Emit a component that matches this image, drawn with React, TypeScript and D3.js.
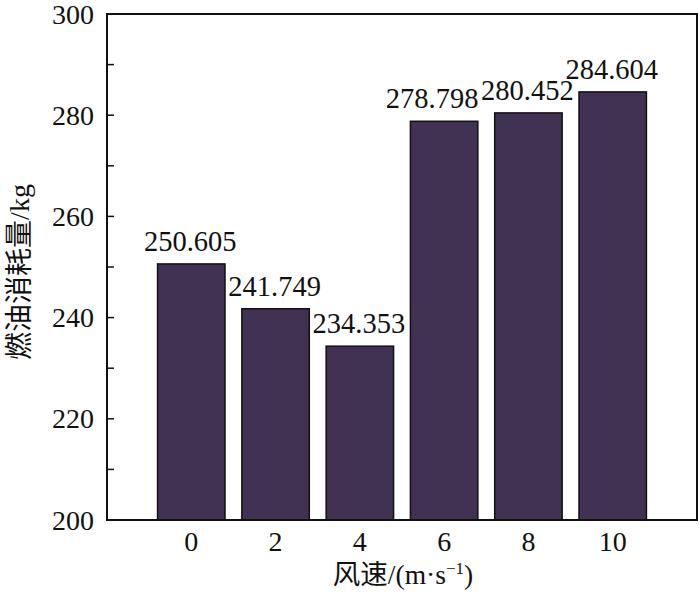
import React from "react";
import * as d3 from "d3";

const windSpeeds = [0, 2, 4, 6, 8, 10];
const fuelUse = [250.605, 241.749, 234.353, 278.798, 280.452, 284.604];
const yTicks = d3.range(200, 301, 10);
const yLabels = [200, 220, 240, 260, 280, 300];

const width = 700;
const height = 597;
const margin = { top: 14, right: 3, bottom: 77, left: 107 };

const serif = "'Liberation Serif', 'Times New Roman', 'Noto Sans CJK SC', serif";

export default function App() {
  const x = d3
    .scaleLinear()
    .domain([-2, 12])
    .range([margin.left, width - margin.right]);
  const y = d3
    .scaleLinear()
    .domain([200, 300])
    .range([height - margin.bottom, margin.top]);
  const barW = x(1.6) - x(0);

  // the 6 m/s label is pushed left so it clears its neighbour
  const nudge = (s: number) => (s === 6 ? -12 : -1);

  return (
    <svg
      width={width}
      height={height}
      style={{ position: "absolute", left: 0, top: 0, background: "#fff" }}
    >
      {windSpeeds.map((s, i) => (
        <g key={`bar/${i}`}>
          <rect
            x={x(s) - barW / 2}
            y={y(fuelUse[i])}
            width={barW}
            height={y(200) - y(fuelUse[i])}
            fill="#413253"
            stroke="#111"
            strokeWidth={1.5}
          />
          <text
            x={x(s) + nudge(s)}
            y={y(fuelUse[i]) - 13}
            textAnchor="middle"
            fontFamily={serif}
            fontSize={28.5}
            fill="#111"
          >
            {fuelUse[i].toFixed(3)}
          </text>
          <text
            x={x(s)}
            y={y(200) + 31}
            textAnchor="middle"
            fontFamily={serif}
            fontSize={28}
            fill="#111"
          >
            {s}
          </text>
        </g>
      ))}

      {yTicks.map((t) => (
        <line
          key={`tick/${t}`}
          x1={x(-2)}
          x2={x(-2) + 7}
          y1={y(t)}
          y2={y(t)}
          stroke="#111"
          strokeWidth={1.5}
        />
      ))}
      {yLabels.map((t) => (
        <text
          key={`ylab/${t}`}
          x={x(-2) - 13}
          y={y(t) + 9.5}
          textAnchor="end"
          fontFamily={serif}
          fontSize={28}
          fill="#111"
        >
          {t}
        </text>
      ))}

      <rect
        x={margin.left}
        y={margin.top}
        width={width - margin.left - margin.right}
        height={height - margin.top - margin.bottom}
        fill="none"
        stroke="#111"
        strokeWidth={2}
      />

      <text
        x={403}
        y={584}
        textAnchor="middle"
        fontFamily={serif}
        fontSize={27.5}
        fill="#111"
      >
        风速/(m·s<tspan dy={-10} fontSize={17}>−1</tspan>
        <tspan dy={10}>)</tspan>
      </text>
      <text
        transform={`translate(29, ${(margin.top + height - margin.bottom) / 2 + 5}) rotate(-90)`}
        textAnchor="middle"
        fontFamily={serif}
        fontSize={28}
        fill="#111"
      >
        燃油消耗量/kg
      </text>
    </svg>
  );
}
